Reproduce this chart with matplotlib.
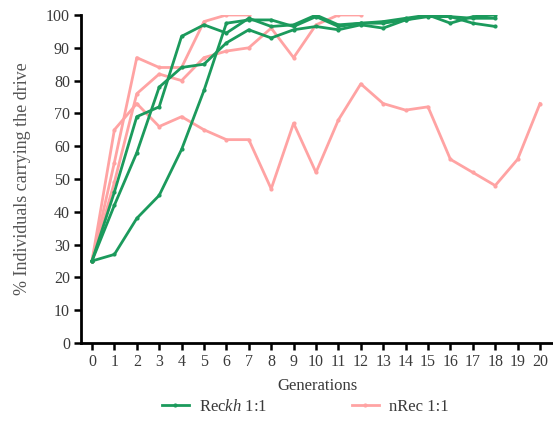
import matplotlib
matplotlib.use("Agg")
import matplotlib.pyplot as plt
from matplotlib.lines import Line2D

# --- data ---
rec_1 = [25, 27, 38, 45, 59, 77, 97.5, 98.5, 98.5, 96.5, 99.5, 96.5, 97.5, 97.5, 98.5, 100, 99.5, 97.5, 96.5]
rec_2 = [25, 46, 69, 72, 93.5, 97, 94.5, 99, 96.5, 97, 100, 97, 97.5, 98, 99, 100, 97.5, 99.5, 100]
rec_3 = [25, 42, 58, 78, 84, 85, 91.5, 95.5, 93, 95.5, 96.5, 95.5, 97, 96, 98.5, 99.5, 99.5, 99, 99]

nrec_1 = [25, 65, 73, 66, 69, 65, 62, 62, 47, 67, 52, 68, 79, 73, 71, 72, 56, 52, 48, 56, 73]
nrec_2 = [25, 55, 87, 84, 84, 98, 100, 100]
nrec_3 = [25, 49, 76, 82, 80, 87, 89, 90, 96, 87, 97, 100, 100]

generations = list(range(21))
yticks = list(range(0, 101, 10))

GREEN = "#1b9a5c"
PINK = "#ffa3a3"
TXT = "#3a3a3a"

plt.rcParams["font.family"] = ["Liberation Serif", "DejaVu Serif"]
plt.rcParams["mathtext.fontset"] = "custom"
plt.rcParams["mathtext.rm"] = "Liberation Serif"
plt.rcParams["mathtext.it"] = "Liberation Serif:italic"

fig = plt.figure(figsize=(5.53, 4.37), dpi=100)
ax = fig.add_axes([81 / 553, 1 - 343 / 437, 1 - 81 / 553, (343 - 15) / 437])

for ys in (nrec_1, nrec_2, nrec_3):
    ax.plot(range(len(ys)), ys, color=PINK, lw=2, marker="o", ms=2, zorder=2)
for ys in (rec_1, rec_2, rec_3):
    ax.plot(range(len(ys)), ys, color=GREEN, lw=2, marker="o", ms=2, zorder=3)

ax.set_xlim(-0.49, 20.58)
ax.set_ylim(0, 100)
ax.set_xticks(generations)
ax.set_yticks(yticks)
ax.tick_params(axis="both", direction="out", length=5, width=1.8,
               labelsize=11.5, labelcolor=TXT, pad=3)
for s in ("top", "right"):
    ax.spines[s].set_visible(False)
for s in ("left", "bottom"):
    ax.spines[s].set_linewidth(2)

ax.set_xlabel("Generations", fontsize=12, color=TXT, labelpad=6)
ax.set_ylabel("% Individuals carrying the drive", fontsize=13, color="#555555", labelpad=11)

# two legend entries placed separately, as in the reference
h_rec = Line2D([], [], color=GREEN, lw=2, marker="o", ms=2)
h_nrec = Line2D([], [], color=PINK, lw=2, marker="o", ms=2)
for h, lab, x0 in ((h_rec, r"Rec$\it{kh}$ 1:1", 157), (h_nrec, "nRec 1:1", 347)):
    fig.legend([h], [lab], loc="center left", bbox_to_anchor=(x0 / 553, 1 - 407 / 437),
               frameon=False, fontsize=12, handlelength=1.6, handletextpad=0.6,
               labelcolor=TXT, borderaxespad=0, borderpad=0.3)

fig.savefig("out.png", dpi=100)
